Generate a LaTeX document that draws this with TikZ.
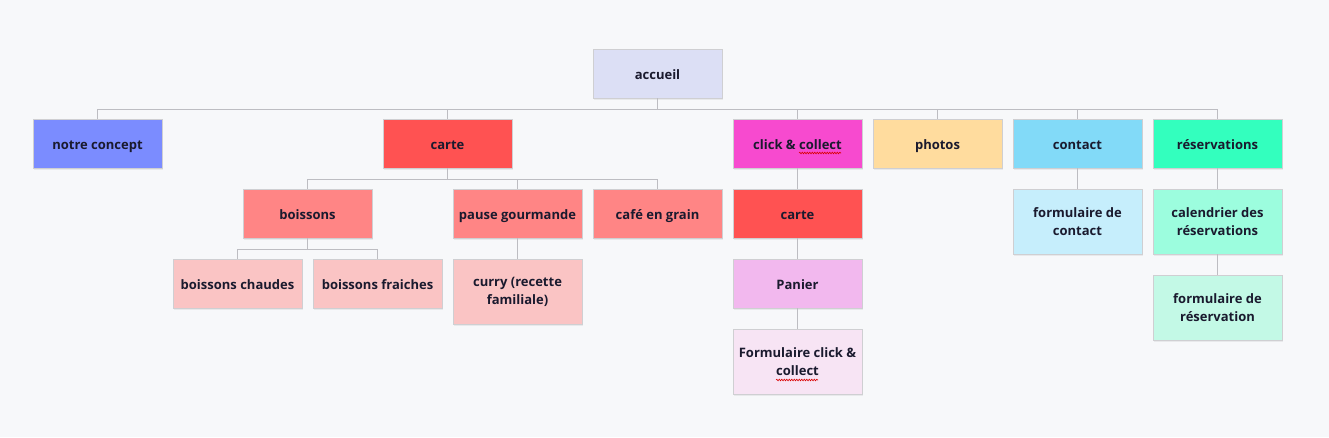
\documentclass[tikz,border=0pt]{standalone}
\usepackage{fontspec}
\setmainfont{Open Sans}
\usetikzlibrary{decorations.pathmorphing,shadows}
\definecolor{bg}{HTML}{F7F8FA}
\definecolor{bordc}{HTML}{CFCFD2}
\definecolor{linec}{HTML}{BDBDC2}
\definecolor{txt}{HTML}{1A1A2E}
\definecolor{cAcc}{HTML}{DCDFF5}
\definecolor{cConc}{HTML}{7B8CFF}
\definecolor{cCarte}{HTML}{FF5252}
\definecolor{cClick}{HTML}{F74ACF}
\definecolor{cPhoto}{HTML}{FFDC9E}
\definecolor{cCont}{HTML}{82DAF8}
\definecolor{cRes}{HTML}{33FFBE}
\definecolor{cSub}{HTML}{FF8585}
\definecolor{cSubSub}{HTML}{FAC4C4}
\definecolor{cPan}{HTML}{F2B8EE}
\definecolor{cForm}{HTML}{F7E4F4}
\definecolor{cFCont}{HTML}{C6EEFC}
\definecolor{cCal}{HTML}{9CFDDE}
\definecolor{cFRes}{HTML}{C3F9E6}
\tikzset{
  box/.style={draw=bordc, line width=0.9pt, minimum width=129pt, minimum height=49pt,
    inner sep=0pt, align=center, text=txt, font=\fontsize{13}{18}\selectfont\bfseries,
    text height=12.6pt, text depth=0.4pt,
    drop shadow={shadow xshift=1pt, shadow yshift=-2pt, fill=black, opacity=0.06}},
  tall/.style={minimum height=65pt, text height=, text depth=},
  link/.style={draw=linec, line width=0.9pt},
  spell/.style={red!85!black, line width=0.6pt, decorate,
    decoration={snake, amplitude=0.8pt, segment length=2.5pt}},
}
\begin{document}
\begin{tikzpicture}[x=1pt,y=-1pt]
\fill[bg] (0,0) rectangle (1329,437);
\useasboundingbox (0,0) rectangle (1329,437);
% nodes
\node[box, fill=cAcc] (acc) at (657.5,73.5) {accueil};
\node[box, fill=cConc] (conc) at (97.5,143.5) {notre concept};
\node[box, fill=cCarte] (carte) at (447.5,143.5) {carte};
\node[box, fill=cClick] (click) at (797.5,143.5) {click \& collect};
\node[box, fill=cPhoto] (photos) at (937.5,143.5) {photos};
\node[box, fill=cCont] (contact) at (1077.5,143.5) {contact};
\node[box, fill=cRes] (resa) at (1217.5,143.5) {réservations};
\node[box, fill=cSub] (boiss) at (307.5,213.5) {boissons};
\node[box, fill=cSub] (pause) at (517.5,213.5) {pause gourmande};
\node[box, fill=cSub] (cafe) at (657.5,213.5) {café en grain};
\node[box, fill=cCarte] (carte2) at (797.5,213.5) {carte};
\node[box, tall, fill=cFCont] (fcont) at (1077.5,221.5) {formulaire de\\contact};
\node[box, tall, fill=cCal] (cal) at (1217.5,221.5) {calendrier des\\réservations};
\node[box, fill=cSubSub] (chaud) at (237.5,283.5) {boissons chaudes};
\node[box, fill=cSubSub] (fraich) at (377.5,283.5) {boissons fraiches};
\node[box, tall, fill=cSubSub] (curry) at (517.5,291.5) {curry (recette\\familiale)};
\node[box, fill=cPan] (panier) at (797.5,283.5) {Panier};
\node[box, tall, fill=cForm] (fcc) at (797.5,361.5) {Formulaire click \&\\collect};
\node[box, tall, fill=cFRes] (fres) at (1217.5,307.5) {formulaire de\\réservation};
% connectors: accueil level
\coordinate (busA) at (657.5,109);
\draw[link] (acc.south) -- (busA);
\foreach \n in {conc,carte,click,photos,contact,resa}
  \draw[link] (\n.north) -- (\n.north |- busA);
\draw[link] (conc.north |- busA) -- (resa.north |- busA);
% carte level
\coordinate (busC) at (447.5,179);
\draw[link] (carte.south) -- (busC);
\foreach \n in {boiss,pause,cafe}
  \draw[link] (\n.north) -- (\n.north |- busC);
\draw[link] (boiss.north |- busC) -- (cafe.north |- busC);
% boissons level
\coordinate (busB) at (307.5,249);
\draw[link] (boiss.south) -- (busB);
\foreach \n in {chaud,fraich}
  \draw[link] (\n.north) -- (\n.north |- busB);
\draw[link] (chaud.north |- busB) -- (fraich.north |- busB);
% straight chains
\draw[link] (pause.south) -- (curry.north);
\draw[link] (click.south) -- (carte2.north);
\draw[link] (carte2.south) -- (panier.north);
\draw[link] (panier.south) -- (fcc.north);
\draw[link] (contact.south) -- (fcont.north);
\draw[link] (resa.south) -- (cal.north);
\draw[link] (cal.south) -- (fres.north);
% spell-check underlines
\draw[spell] (799,153) -- (841,153);
\draw[spell] (776,380) -- (818,380);
\end{tikzpicture}
\end{document}
